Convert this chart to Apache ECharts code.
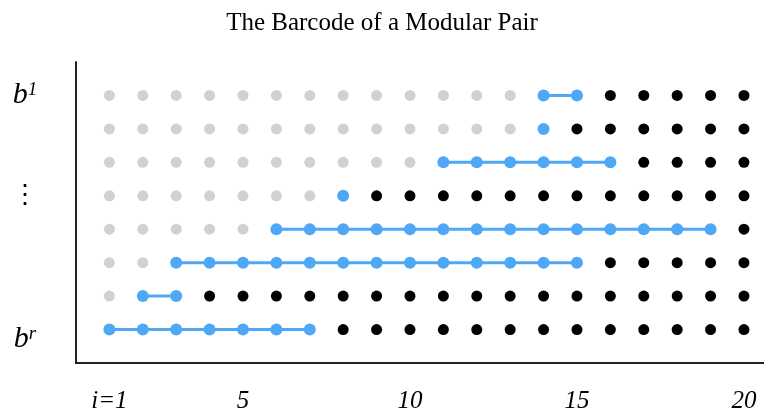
<!DOCTYPE html>
<html>
<head>
<meta charset="utf-8">
<script src="https://cdn.jsdelivr.net/npm/echarts@6/dist/echarts.min.js"></script>
<style>html,body{margin:0;padding:0;background:#fff}#c{width:764px;height:419px}</style>
</head>
<body>
<div id="c"></div>
<script>
// Columns i = 1..20, rows 1 (b^r, bottom) .. 8 (b^1, top)
const columns = [1,2,3,4,5,6,7,8,9,10,11,12,13,14,15,16,17,18,19,20];
const rows = [1,2,3,4,5,6,7,8];
// Bar (blue interval) start and end column for each row, bottom to top
const barStart = [1,2,3,6,8,11,14,14];
const barEnd   = [7,3,15,19,8,16,14,15];
// Tick labels
const xTickValues = [1,5,10,15,20];
const xTickLabels = ['i=1','5','10','15','20'];
const yTickValues = [1,5,8];
const yTickLabels = ['{br|b}{supr|r}', '{dots|⋮}', '{b|b}{sup|1}'];

const grayPts = [], blackPts = [];
const barSeries = [];
rows.forEach((r, k) => {
  const bar = [];
  columns.forEach(i => {
    if (i < barStart[k]) grayPts.push([i, r]);
    else if (i > barEnd[k]) blackPts.push([i, r]);
    else bar.push([i, r]);
  });
  barSeries.push({
    type: 'line', data: bar, symbol: 'circle', symbolSize: 12,
    itemStyle: {color: '#4fa8f5', opacity: 1}, lineStyle: {color: '#4fa8f5', width: 3},
    animation: false, z: 3
  });
});

const serif = 'Liberation Serif, Times New Roman, serif';
const bStyle = {fontFamily: serif, fontStyle: 'italic', fontSize: 30, color: '#000'};
const supStyle = {fontFamily: serif, fontStyle: 'italic', fontSize: 19, color: '#000', verticalAlign: 'top'};
const chart = echarts.init(document.getElementById('c'));
chart.setOption({
  animation: false,
  title: {
    text: 'The Barcode of a Modular Pair', left: 'center', top: 6,
    textStyle: {fontFamily: serif, fontWeight: 'normal', fontSize: 25, color: '#000'}
  },
  grid: {left: 76, right: 0, top: 62, bottom: 56, containLabel: false},
  xAxis: {
    type: 'value', min: 0, max: 20.6,
    axisLine: {show: true, onZero: false, lineStyle: {color: '#222', width: 2}},
    axisTick: {show: false}, splitLine: {show: false},
    axisLabel: {
      customValues: xTickValues, margin: 26,
      formatter: v => xTickLabels[xTickValues.indexOf(v)] ?? '',
      fontFamily: serif, fontStyle: 'italic', fontSize: 25, color: '#000'
    }
  },
  yAxis: {
    type: 'value', min: 0, max: 9,
    axisLine: {show: true, onZero: false, lineStyle: {color: '#222', width: 2}},
    axisTick: {show: false}, splitLine: {show: false},
    axisLabel: {
      customValues: yTickValues, margin: 51, align: 'center',
      formatter: v => yTickLabels[yTickValues.indexOf(v)] ?? '',
      rich: {
        b: Object.assign({}, bStyle),
        sup: Object.assign({}, supStyle),
        br: Object.assign({}, bStyle, {padding: [20,0,0,0]}),
        supr: Object.assign({}, supStyle, {padding: [20,0,0,0]}),
        dots: {fontFamily: 'DejaVu Serif', fontSize: 26, color: '#000'}
      }
    }
  },
  series: [
    {type: 'scatter', data: grayPts, symbolSize: 11, itemStyle: {color: '#cfd2d0', opacity: 1}, z: 2},
    {type: 'scatter', data: blackPts, symbolSize: 11, itemStyle: {color: '#000', opacity: 1}, z: 2}
  ].concat(barSeries)
});
</script>
</body>
</html>
